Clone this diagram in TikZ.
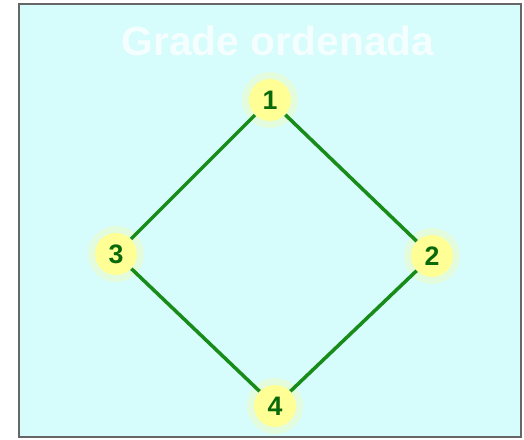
\documentclass[tikz,border=0pt]{standalone}
\usepackage{fontspec}
\setmainfont{Liberation Sans}
\definecolor{GridBack}{RGB}{214,252,252}
\definecolor{GridEdge}{RGB}{24,140,24}
\definecolor{GridNum}{RGB}{10,105,10}
\definecolor{GridDot}{RGB}{255,255,150}
\usetikzlibrary{positioning}

\begin{document}
\begin{tikzpicture}[x=0.025cm, y=-0.025cm,
        elnode/.style={circle, fill=GridDot, inner sep=0pt, minimum size=1.05cm,
                       font=\fontsize{19}{19}\selectfont\bfseries, text=GridNum},
        halo/.style={circle, fill=GridDot, opacity=0.3, inner sep=0pt, minimum size=1.4cm},
        edgeline/.style={line width=2.5pt, GridEdge}
      ]
        \useasboundingbox (0,0) rectangle (524,439);
        \fill[white] (0,0) rectangle (524,439);
        \draw[fill=GridBack, draw=gray!80!black, line width=1.2pt] (19,4) rectangle (521,437);

        \node[font=\fontsize{29}{29}\selectfont\bfseries, text=white, opacity=0.75] (title) at (278,41) {Grade ordenada};

        % glow behind the elements
        \node[halo] at (270,100) {};
        \node[halo] at (432,256) {};
        \node[halo] at (116,254) {};
        \node[halo] at (275,406) {};

        \node[elnode] (n1) at (270,100) {1};
        \node[elnode] (n2) at (432,256) {2};
        \node[elnode] (n3) at (116,254) {3};
        \node[elnode] (n4) at (275,406) {4};

        \draw[edgeline] (n1) -- (n2);
        \draw[edgeline] (n1) -- (n3);
        \draw[edgeline] (n3) -- (n4);
        \draw[edgeline] (n2) -- (n4);
      \end{tikzpicture}
\end{document}
